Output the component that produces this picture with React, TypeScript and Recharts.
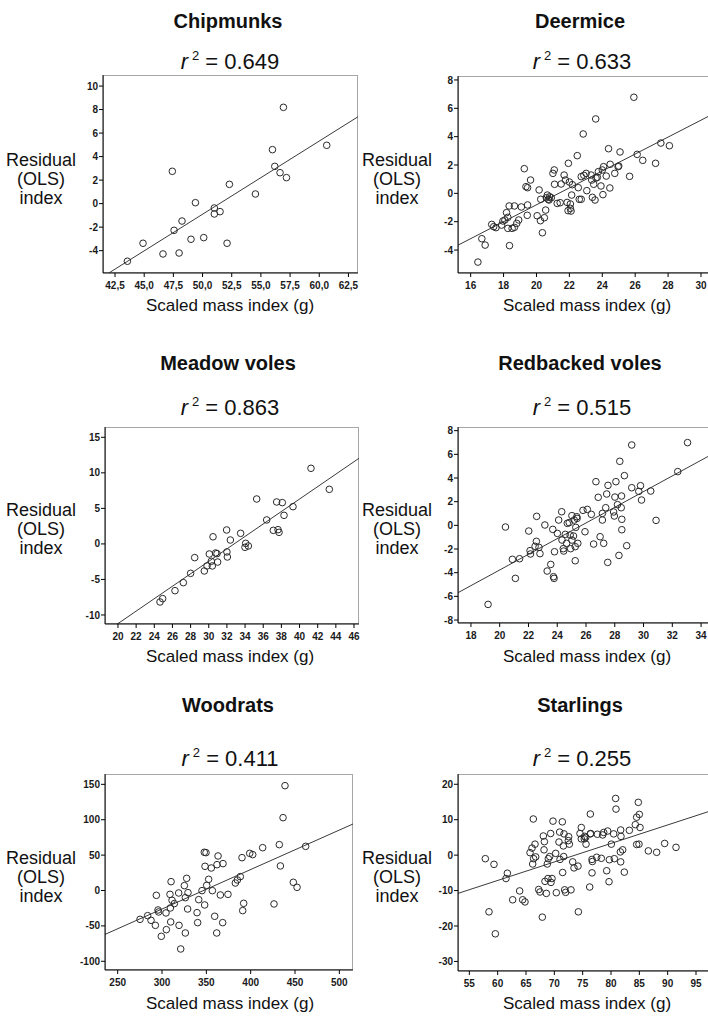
import React from 'react';
import { ScatterChart, Scatter, XAxis, YAxis, ReferenceLine } from 'recharts';

// ---- data ----
const chipmunksX = [43.56, 44.9, 46.61, 47.41, 47.56, 47.99, 48.24, 49.01, 49.39, 50.1, 51.01, 51.01, 51.5, 52.1, 52.3, 54.53, 55.99, 56.19, 56.64, 56.93, 57.19, 60.64];
const chipmunksY = [-4.9, -3.37, -4.28, 2.75, -2.27, -4.2, -1.48, -3.03, 0.08, -2.89, -0.37, -0.88, -0.68, -3.37, 1.64, 0.82, 4.59, 3.17, 2.63, 8.19, 2.21, 4.96];

const deermiceX = [16.44, 16.68, 16.88, 17.28, 17.4, 17.54, 17.88, 17.96, 18.08, 18.18, 18.26, 18.26, 18.34, 18.36, 18.52, 18.66, 18.66, 18.8, 18.92, 19.08, 19.26, 19.36, 19.46, 19.44, 19.46, 19.64, 20.04, 20.16, 20.24, 20.26, 20.36, 20.48, 20.56, 20.6, 20.66, 20.72, 20.8, 20.76, 20.9, 21.0, 21.08, 21.1, 21.26, 21.44, 21.5, 21.68, 21.76, 21.86, 21.94, 21.92, 22.0, 22.06, 22.06, 22.1, 22.14, 22.18, 22.48, 22.54, 22.6, 22.72, 22.72, 22.84, 22.88, 23.02, 23.06, 23.32, 23.36, 23.4, 23.48, 23.56, 23.6, 23.62, 23.7, 23.76, 23.92, 24.0, 24.04, 24.08, 24.24, 24.38, 24.46, 24.48, 24.76, 24.96, 25.0, 25.08, 25.66, 25.92, 26.12, 26.46, 27.24, 27.56, 28.08];
const deermiceY = [-4.85, -3.2, -3.65, -2.19, -2.35, -2.42, -2.24, -1.95, -1.88, -1.36, -1.69, -2.47, -0.89, -3.69, -2.47, -2.4, -0.89, -2.12, -1.88, -0.96, 1.74, 0.47, 0.4, -1.55, -0.82, 0.94, -1.58, 0.24, -1.93, -0.42, -2.78, -1.72, -1.18, -0.31, -0.12, -0.42, -0.24, -0.47, -0.31, 1.41, 1.65, 0.64, -0.71, -0.66, 0.66, 1.29, 0.94, -0.64, 2.12, -1.22, 0.8, -0.75, -1.06, -1.25, -0.12, 0.61, 2.66, 0.4, -0.42, -0.42, 1.18, 4.19, 1.27, 1.41, 0.19, 1.29, 0.94, -0.28, 0.64, -0.47, 5.25, 1.08, 1.13, 1.53, 0.52, 1.65, -0.09, 1.88, 1.22, 3.15, 0.38, 2.05, 1.41, 1.88, 1.93, 2.92, 1.2, 6.78, 2.75, 2.33, 2.12, 3.55, 3.36];

const meadowX = [24.63, 24.92, 26.28, 27.2, 28.0, 28.45, 29.51, 29.81, 30.06, 30.28, 30.39, 30.47, 30.76, 30.91, 30.98, 31.97, 32.0, 32.05, 32.38, 33.51, 34.07, 33.99, 34.36, 35.28, 36.38, 37.11, 37.48, 37.63, 37.74, 38.1, 38.29, 39.28, 41.26, 43.28];
const meadowY = [-8.17, -7.7, -6.58, -5.45, -4.14, -1.93, -3.81, -3.1, -1.42, -2.45, -3.1, 1.0, -1.28, -1.37, -2.55, 1.96, -1.13, -1.84, 0.55, 1.49, 0.08, -0.48, -0.29, 6.32, 3.37, 1.91, 5.9, 2.0, 1.63, 5.81, 4.02, 5.24, 10.64, 7.68];

const redbackedX = [19.19, 20.4, 20.88, 21.09, 21.38, 22.02, 22.11, 22.14, 22.46, 22.55, 22.57, 22.73, 22.8, 23.14, 23.3, 23.55, 23.69, 23.74, 23.78, 23.81, 24.01, 24.1, 24.31, 24.33, 24.42, 24.45, 24.56, 24.65, 24.7, 24.83, 24.9, 24.93, 25.02, 25.02, 25.13, 25.18, 25.25, 25.25, 25.29, 25.36, 25.38, 25.43, 25.79, 25.93, 26.09, 26.37, 26.53, 26.69, 26.85, 26.98, 27.14, 27.14, 27.23, 27.37, 27.44, 27.51, 27.53, 27.92, 27.97, 28.01, 28.08, 28.19, 28.29, 28.35, 28.45, 28.47, 28.49, 28.49, 28.67, 28.83, 29.18, 29.18, 29.67, 29.79, 29.86, 30.5, 30.87, 32.38, 33.06];
const redbackedY = [-6.68, -0.14, -2.87, -4.48, -2.82, -0.48, -2.14, -2.42, -1.77, -1.35, 0.76, -1.86, -2.39, 0.03, -3.86, -3.3, -0.34, -4.34, -4.48, -2.23, -0.68, 0.45, 1.15, -1.24, -1.97, -2.17, -0.76, -1.52, 0.17, 0.23, -0.82, -1.97, 0.82, -1.24, -0.9, 0.45, -2.99, -1.8, -0.17, 0.73, 0.59, -1.52, 1.27, -0.54, 1.35, 0.93, -1.58, 3.69, 2.37, -0.96, 1.01, 0.45, -1.52, 1.49, 2.65, -3.13, 3.38, 1.13, 0.79, 2.39, 3.69, 1.75, -2.54, 5.41, 1.49, 2.48, 0.51, -0.37, 4.2, -1.72, 3.18, 6.79, 2.87, 3.35, 2.14, 2.9, 0.42, 4.54, 6.99];

const woodratsX = [275.2, 283.8, 287.6, 292.5, 293.6, 295.5, 296.2, 299.2, 304.9, 304.5, 309, 309.4, 309.8, 310.2, 311.3, 313.9, 318.8, 319.2, 321.1, 325.2, 326.3, 326.3, 327.8, 329.3, 328.9, 339.5, 340.2, 341.4, 345.1, 347.7, 349.6, 348.5, 348.1, 350.4, 352.6, 355.6, 356.8, 359.4, 361.7, 362, 363.2, 365.8, 368.8, 368.4, 374.4, 382.7, 385, 388.3, 390.2, 391, 392.1, 398.9, 402.3, 413.5, 426.3, 432.3, 433.5, 436.5, 438.7, 448.1, 452.3, 462];
const woodratsY = [-40.7, -35.5, -42.1, -49.2, -6.8, -27.5, -30.3, -64.7, -55.3, -31.7, -5.4, -24.7, -44.4, 12.5, -13.8, -18.5, -3.5, -49.2, -82.6, 6.9, -10.1, -60, 17.2, -3, -26.1, -31.3, -45.4, -12.9, -0.2, 54, 53.5, 34.2, -20.4, 7.3, 15.8, 31.8, -0.2, -36.4, -60, 36.5, 48.8, -6.3, 38, -45.4, -5.4, 10.6, 14.9, 19.6, 46.4, -28.4, -18.1, 52.5, 50.7, 60.5, -19, 64.8, 34.7, 102.9, 148.1, 11.6, 4.5, 62.4];

const starlingsX = [57.82, 58.47, 59.35, 59.59, 61.47, 61.71, 62.65, 63.88, 64.41, 64.82, 65.71, 66.06, 66.18, 66.29, 66.35, 66.59, 66.71, 67.24, 67.47, 67.88, 68.06, 68.18, 68.24, 68.35, 68.59, 68.76, 68.88, 68.94, 69.18, 69.35, 69.41, 69.59, 69.76, 70.24, 70.35, 70.82, 70.94, 71.0, 71.47, 71.41, 71.59, 71.65, 71.71, 71.82, 72.0, 72.47, 72.53, 72.65, 72.94, 73.24, 73.47, 74.18, 74.24, 74.53, 74.76, 74.76, 75.29, 75.35, 75.59, 75.53, 76.24, 76.35, 76.35, 76.41, 76.65, 76.65, 76.71, 77.47, 77.59, 78.29, 78.53, 78.71, 79.24, 79.41, 79.65, 79.71, 80.06, 80.47, 80.59, 80.82, 80.88, 81.65, 81.71, 81.76, 81.71, 82.06, 82.35, 83.24, 84.29, 84.53, 84.53, 84.82, 85.0, 84.94, 85.12, 86.59, 88.06, 89.47, 91.47];
const starlingsY = [-1.0, -16, -2.6, -22.2, -6.6, -5.1, -12.6, -10.1, -12.6, -13.2, 0.7, 2.0, -2.5, 10.2, -1.0, 3.1, -0.5, -9.7, -10.4, -17.5, 5.4, 1.5, 3.8, -7.4, -10.8, -2.5, -6.6, -1.0, -0.4, 6.1, -7.7, -6.6, 9.6, 0.5, -10.6, 3.7, 6.5, -1.2, -4.9, 9.4, 2.6, -0.4, 6.0, -9.8, -10.5, 4.1, 5.2, 3.1, -9.8, -1.9, -3.6, -3.1, -16, 6.1, 7.8, 4.6, 4.6, 5.3, 3.1, 5.0, -9.0, 11.6, 6.0, 6.1, -1.2, -5.0, -1.8, -0.6, 5.9, -0.9, 5.7, 6.4, -4.4, 6.8, -7.5, -1.3, 3.1, 6.0, -1.0, 16.0, 13.0, 0.9, 7.1, 5.3, -1.9, 1.5, -4.8, 7.0, 8.6, 10.7, 3.0, 14.9, 11.5, 3.1, 7.8, 1.2, 0.8, 3.3, 2.2];

// fit line end points [x1, y1, x2, y2]
const chipmunksFit = [42.02, -5.87, 63.32, 7.39];
const deermiceFit = [15.24, -3.65, 30.73, 5.6];
const meadowFit = [19.93, -11.27, 46.55, 12.05];
const redbackedFit = [17.1, -5.69, 34.83, 6.05];
const woodratsFit = [235.7, -62, 515.4, 94];
const starlingsFit = [53.0, -10.8, 98.0, 12.7];

const chipmunksXTicks = [42.5, 45, 47.5, 50, 52.5, 55, 57.5, 60, 62.5];
const chipmunksYTicks = [-4, -2, 0, 2, 4, 6, 8, 10];
const deermiceXTicks = [16, 18, 20, 22, 24, 26, 28, 30];
const deermiceYTicks = [-4, -2, 0, 2, 4, 6, 8];
const meadowXTicks = [20, 22, 24, 26, 28, 30, 32, 34, 36, 38, 40, 42, 44, 46];
const meadowYTicks = [-10, -5, 0, 5, 10, 15];
const redbackedXTicks = [18, 20, 22, 24, 26, 28, 30, 32, 34];
const redbackedYTicks = [-8, -6, -4, -2, 0, 2, 4, 6, 8];
const woodratsXTicks = [250, 300, 350, 400, 450, 500];
const woodratsYTicks = [-100, -50, 0, 50, 100, 150];
const starlingsXTicks = [55, 60, 65, 70, 75, 80, 85, 90, 95];
const starlingsYTicks = [-30, -20, -10, 0, 10, 20];

const titles = ['Chipmunks', 'Deermice', 'Meadow voles', 'Redbacked voles', 'Woodrats', 'Starlings'];
const rSquared = ['0.649', '0.633', '0.863', '0.515', '0.411', '0.255'];

const FONT = '"Liberation Sans", Arial, sans-serif';
const Y_W = 45;
const PAD = 6;
const X_H = 30;

const commaFmt = (v: number) => v.toFixed(1).replace('.', ',');

const panels = [
  { xs: chipmunksX, ys: chipmunksY, fit: chipmunksFit, xTicks: chipmunksXTicks, yTicks: chipmunksYTicks, xDomain: [41.47, 63.32], yDomain: [-5.9, 10.94], fmt: commaFmt, left: 103, top: 75, w: 255, h: 198, cx: 228, col: 0, row: 0 },
  { xs: deermiceX, ys: deermiceY, fit: deermiceFit, xTicks: deermiceXTicks, yTicks: deermiceYTicks, xDomain: [15.23, 30.73], yDomain: [-5.62, 8.28], left: 458, top: 76, w: 255, h: 197, cx: 580, col: 1, row: 0 },
  { xs: meadowX, ys: meadowY, fit: meadowFit, xTicks: meadowXTicks, yTicks: meadowYTicks, xDomain: [18.57, 46.55], yDomain: [-11.27, 16.45], left: 105, top: 427, w: 254, h: 197, cx: 228, col: 0, row: 1 },
  { xs: redbackedX, ys: redbackedY, fit: redbackedFit, xTicks: redbackedXTicks, yTicks: redbackedYTicks, xDomain: [17.1, 34.83], yDomain: [-8.25, 8.31], left: 458, top: 427, w: 255, h: 196, cx: 580, col: 1, row: 1 },
  { xs: woodratsX, ys: woodratsY, fit: woodratsFit, xTicks: woodratsXTicks, yTicks: woodratsYTicks, xDomain: [235.7, 515.4], yDomain: [-112.3, 164.6], left: 105, top: 774, w: 248, h: 196, cx: 228, col: 0, row: 2 },
  { xs: starlingsX, ys: starlingsY, fit: starlingsFit, xTicks: starlingsXTicks, yTicks: starlingsYTicks, xDomain: [53.0, 98.0], yDomain: [-32.7, 22.9], left: 458, top: 774, w: 255, h: 197, cx: 580, col: 1, row: 2 },
];

// text baselines per row
const titleBase = [28, 370, 712];
const rBase = [69, 415, 766];
const yLabBase = [166, 516, 864];
const xLabBase = [311, 662, 1009];
const yLabX = [41, 397];
const xLabX = [230, 587];

const ring = (props: any) => (
  <circle cx={props.cx} cy={props.cy} r={3.3} fill="none" stroke="#2a2a2a" strokeWidth={1} />
);

const tickStyle = { fontSize: 10, fontWeight: 700, fill: '#1a1a1a', fontFamily: FONT };

function Panel({ p }: { p: any }) {
  const data = p.xs.map((x: number, i: number) => ({ x, y: p.ys[i] }));
  const [x1, y1, x2, y2] = p.fit;
  return (
    <>
      <div
        style={{
          position: 'absolute',
          left: p.left,
          top: p.top,
          width: p.w,
          height: p.h,
          border: '1.5px solid #a6a6a6',
          boxSizing: 'border-box',
        }}
      />
      <div style={{ position: 'absolute', left: p.left - Y_W, top: p.top - PAD }}>
        <ScatterChart
          width={Y_W + p.w + PAD}
          height={PAD + p.h + X_H}
          margin={{ top: PAD, right: PAD, bottom: 0, left: 0 }}
        >
          <XAxis
            type="number"
            dataKey="x"
            domain={p.xDomain}
            ticks={p.xTicks}
            interval={0}
            allowDataOverflow
            height={X_H}
            stroke="#000"
            tickSize={4}
            tickMargin={5}
            tick={tickStyle}
            tickFormatter={p.fmt}
          />
          <YAxis
            type="number"
            dataKey="y"
            domain={p.yDomain}
            ticks={p.yTicks}
            interval={0}
            allowDataOverflow
            width={Y_W}
            stroke="#000"
            tickSize={4}
            tickMargin={1}
            tick={tickStyle}
          />
          <ReferenceLine
            segment={[{ x: x1, y: y1 }, { x: x2, y: y2 }]}
            stroke="#3a3a3a"
            strokeWidth={1}
            ifOverflow="visible"
          />
          <Scatter data={data} shape={ring} isAnimationActive={false} />
        </ScatterChart>
      </div>
    </>
  );
}

export default function App() {
  return (
    <div
      style={{
        position: 'absolute',
        left: 0,
        top: 0,
        width: 708,
        height: 1020,
        overflow: 'hidden',
        background: '#fff',
      }}
    >
      {panels.map((p, i) => (
        <Panel key={i} p={p} />
      ))}
      <svg width={708} height={1020} style={{ position: 'absolute', left: 0, top: 0, pointerEvents: 'none' }}>
        {panels.map((p, i) => (
          <g key={i} fontFamily={FONT} fill="#111">
            <text x={p.cx} y={titleBase[p.row]} textAnchor="middle" fontSize={20} fontWeight={700}>
              {titles[i]}
            </text>
            <text x={p.cx + 2} y={rBase[p.row]} textAnchor="middle" fontSize={22}>
              <tspan fontStyle="italic">r</tspan>
              <tspan dx={4} dy={-9} fontSize={13}>2</tspan>
              <tspan dy={9}>{` = ${rSquared[i]}`}</tspan>
            </text>
            <text x={yLabX[p.col]} y={yLabBase[p.row]} textAnchor="middle" fontSize={18}>
              <tspan x={yLabX[p.col]}>Residual</tspan>
              <tspan x={yLabX[p.col]} dy={19}>(OLS)</tspan>
              <tspan x={yLabX[p.col]} dy={19}>index</tspan>
            </text>
            <text x={xLabX[p.col]} y={xLabBase[p.row]} textAnchor="middle" fontSize={17}>
              Scaled mass index (g)
            </text>
          </g>
        ))}
      </svg>
    </div>
  );
}
